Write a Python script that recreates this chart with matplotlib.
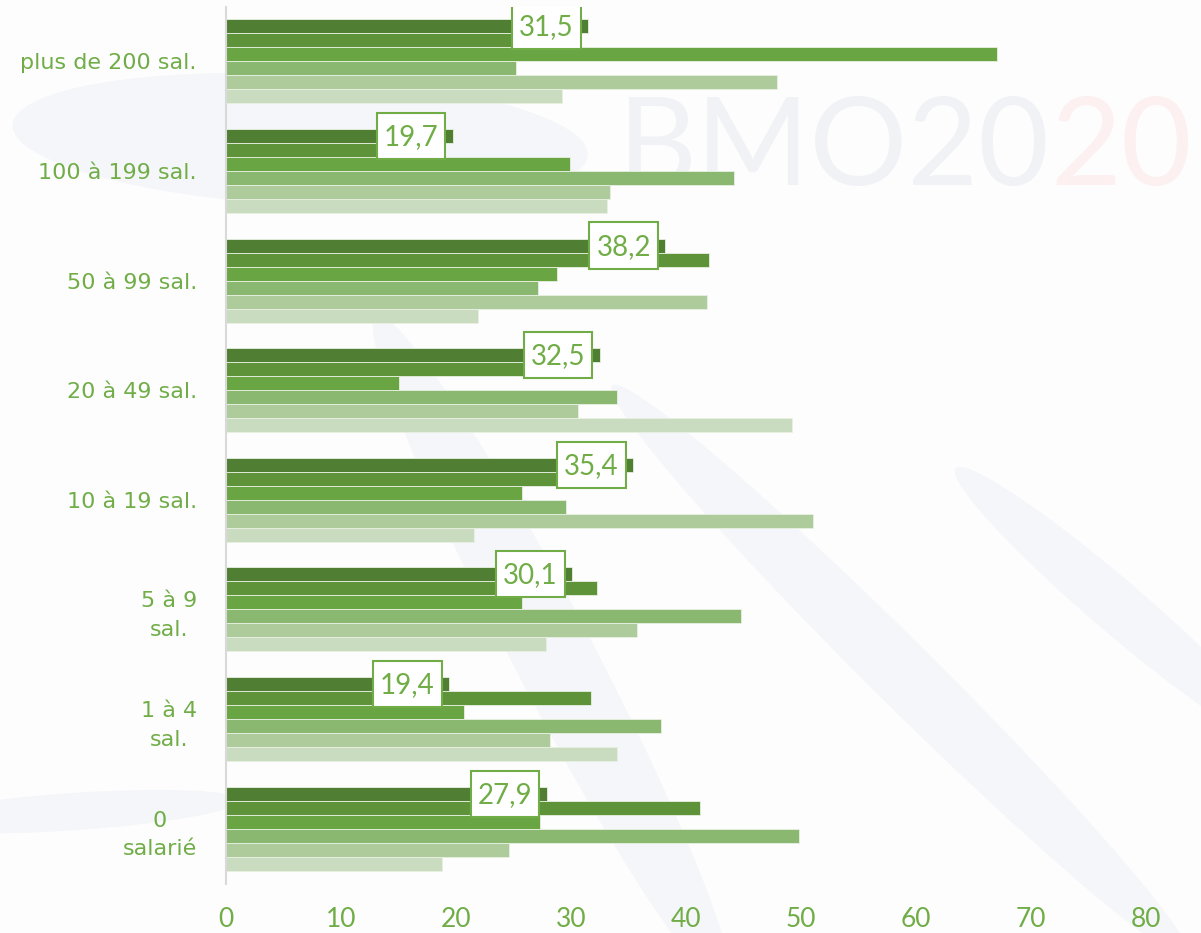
import matplotlib
matplotlib.use("Agg")
import matplotlib.pyplot as plt
from matplotlib.patches import Rectangle, Ellipse
import numpy as np

categories = ["plus de 200 sal.", "100 à 199 sal.", "50 à 99 sal.", "20 à 49 sal.",
              "10 à 19 sal.", "5 à 9\nsal.", "1 à 4\nsal.", "0\nsalarié"]

s1 = [31.5, 19.7, 38.2, 32.5, 35.4, 30.1, 19.4, 27.9]
s2 = [28.0, 17.0, 42.0, 28.0, 31.0, 32.3, 31.7, 41.2]
s3 = [67.0, 29.9, 28.8, 15.0, 25.7, 25.7, 20.7, 27.3]
s4 = [25.2, 44.2, 27.1, 34.0, 29.6, 44.8, 37.8, 49.8]
s5 = [47.9, 33.4, 41.8, 30.6, 51.0, 35.7, 28.2, 24.6]
s6 = [29.2, 33.1, 21.9, 49.2, 21.6, 27.8, 34.0, 18.8]
series = [s1, s2, s3, s4, s5, s6]
colors = ["#507E32", "#5E933A", "#6AA543", "#8AB870", "#AECB9C", "#C9DCC0"]
xticks = [0, 10, 20, 30, 40, 50, 60, 70, 80]

green = "#70AD47"
numfont = "Lato"

fig = plt.figure(figsize=(12.01, 9.33), dpi=100)
fig.patch.set_facecolor("#FDFDFD")

# faint background decoration (watermark)
bg = "#F5F6F9"
for (cx, cy, w, h, ang) in [(0.25, 0.85, 0.48, 0.14, -4),
                             (0.46, 0.30, 0.07, 0.78, 22),
                             (0.75, 0.28, 0.06, 0.78, 38),
                             (0.93, 0.35, 0.05, 0.40, 42),
                             (0.06, 0.13, 0.28, 0.04, 5)]:
    fig.patches.append(Ellipse((cx, cy), w, h, angle=ang, transform=fig.transFigure,
                               facecolor=bg, edgecolor="none", zorder=-10))
t1 = fig.text(618 / 1201, 1 - 185 / 933, "BMO20", fontsize=88, color="#F0F2F6",
              family="Lato", fontweight="normal", ha="left", va="baseline", zorder=-5)
fig.canvas.draw()
bb = t1.get_window_extent(renderer=fig.canvas.get_renderer())
fig.text(bb.x1 / fig.bbox.width, 1 - 185 / 933, "20", fontsize=88, color="#FCF0F0",
         family="Lato", fontweight="normal", ha="left", va="baseline", zorder=-5)

ax = fig.add_axes([226 / 1201, 1 - 883.5 / 933, 920 / 1201, 877 / 933])
ax.set_facecolor("none")

n = len(categories)
y = np.arange(n)
h = 0.766 / 6
for i, (vals, c) in enumerate(zip(series, colors)):
    ax.barh(y + (i - 2.5) * h, vals, height=h, color=c, edgecolor="#E8F0E2",
            linewidth=0.6, zorder=2)

# data labels for first series
for yi, v in zip(y, s1):
    right = v - 0.65
    width = 5.95
    cy = yi - 0.32
    ax.add_patch(Rectangle((right - width, cy - 0.21), width, 0.42, facecolor="white",
                           edgecolor=green, linewidth=1.5, zorder=4))
    ax.text(right - width / 2, cy + 0.01, f"{v:.1f}".replace(".", ","), ha="center",
            va="center", fontsize=20, color=green, family=numfont, zorder=5)

ax.set_xlim(0, 80)
ax.set_ylim(n - 0.5, -0.5)
ax.set_xticks(xticks)
ax.set_xticklabels([str(t) for t in xticks], fontsize=19, color=green, family=numfont)
ax.set_yticks(y)
ax.set_yticklabels(categories, fontsize=16, color=green, family="DejaVu Sans",
                   multialignment="center", linespacing=1.55)
ax.tick_params(axis="both", length=0)
ax.tick_params(axis="y", pad=21)
ax.tick_params(axis="x", pad=17)
for s in ["top", "right", "bottom"]:
    ax.spines[s].set_visible(False)
ax.spines["left"].set_color("#D9D9D9")
ax.spines["left"].set_linewidth(1.5)

fig.savefig("out.png", dpi=100, facecolor=fig.get_facecolor())
